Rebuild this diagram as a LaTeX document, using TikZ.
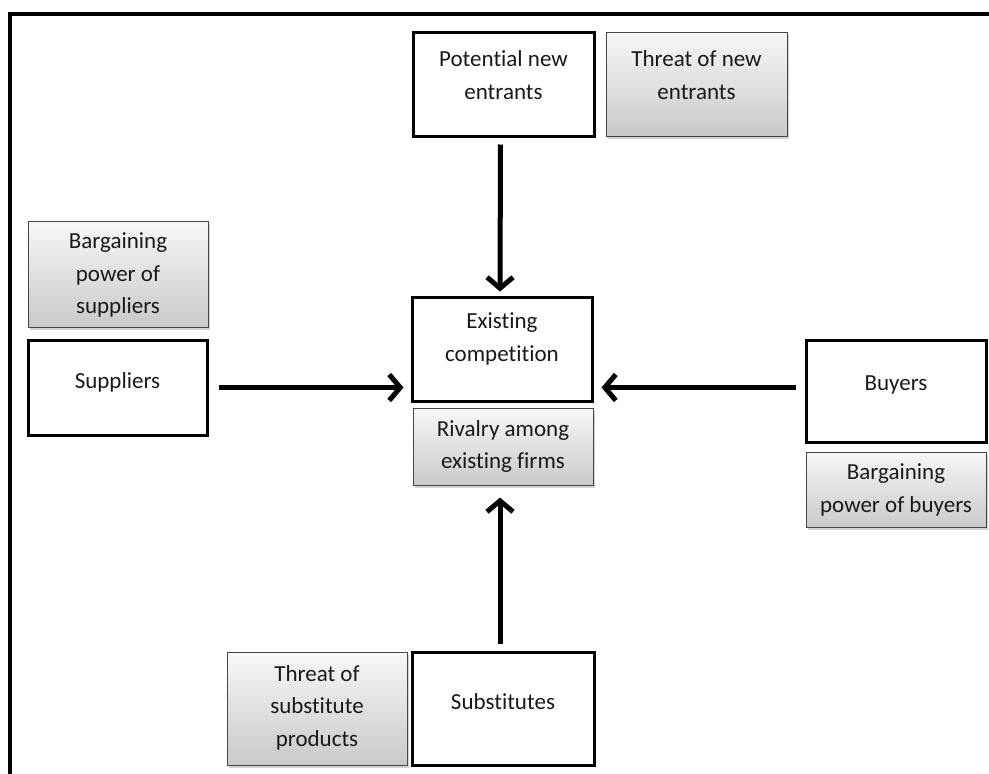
\documentclass[tikz,border=0pt]{standalone}
\usepackage{fontspec}
\setmainfont{Carlito}[Ligatures={NoCommon}]
\usetikzlibrary{arrows.meta,shadows}
\begin{document}
\begin{tikzpicture}[x=1pt,y=-1pt,
  wbox/.style={draw=black, line width=3pt, fill=white, inner sep=0pt},
  gbox/.style={draw=gray!55!black, line width=1pt, top color=gray!6, bottom color=gray!42,
    inner sep=0pt, drop shadow={shadow xshift=2pt, shadow yshift=-2.5pt, opacity=0.35}},
  txt/.style={align=center, inner sep=0pt, font=\fontsize{23}{32.5}\selectfont, text=black!90},
  arr/.style={line width=5pt, -{Straight Barb[length=11pt,width=26pt,line width=5pt]}}]
\useasboundingbox (0,0) rectangle (989,774);
\fill[white] (0,0) rectangle (989,774);
% frame
\draw[line width=4pt] (9.5,774) -- (9.5,13.5) -- (989,13.5);
% boxes
\node[wbox, minimum width=181pt, minimum height=104pt] (pne) at (503.5,84) {};
\node[gbox, minimum width=181pt, minimum height=104pt] (tne) at (696.5,84) {};
\node[wbox, minimum width=180pt, minimum height=104pt] (ec) at (502,349) {};
\node[gbox, minimum width=180pt, minimum height=77pt] (riv) at (503,446.5) {};
\node[wbox, minimum width=180pt, minimum height=102pt] (buy) at (896,391) {};
\node[gbox, minimum width=180pt, minimum height=75pt] (bpb) at (896,489.5) {};
\node[wbox, minimum width=182pt, minimum height=113pt] (sub) at (503,708.5) {};
\node[gbox, minimum width=180pt, minimum height=113pt] (tsp) at (317,708.5) {};
\node[gbox, minimum width=180pt, minimum height=106pt] (bps) at (118,274) {};
\node[wbox, minimum width=179pt, minimum height=95pt] (sup) at (117.5,387.5) {};
% texts
\node[txt] (pnet) at (503.5,75) {Potential new\\entrants};
\node[txt] (tnet) at (696.5,75) {Threat of new\\entrants};
\node[txt] (ect) at (502,339) {Existing\\competition};
\node[txt] (rivt) at (503,446.5) {Rivalry among\\existing firms};
\node[txt] (buyt) at (896,385) {Buyers};
\node[txt] (bpbt) at (896,490) {Bargaining\\power of buyers};
\node[txt] (subt) at (503,702) {Substitutes};
\node[txt] (tspt) at (317,707.5) {Threat of\\substitute\\products};
\node[txt] (bpst) at (118,275) {Bargaining\\power of\\suppliers};
\node[txt] (supt) at (117.5,382) {Suppliers};
% arrows
\draw[arr, shorten <=7pt, shorten >=4pt] ([xshift=-3pt]pne.south) -- ([xshift=-2pt]ec.north);
\draw[arr, shorten <=7pt, shorten >=12pt] ([xshift=-3pt]sub.north) -- ([xshift=-3pt]riv.south);
\draw[arr, shorten <=10pt, shorten >=7pt] (sup.east) -- (sup.east -| ec.west);
\draw[arr, shorten <=9pt, shorten >=8pt] (buy.west |- sup.east) -- (sup.east -| ec.east);
\end{tikzpicture}
\end{document}
